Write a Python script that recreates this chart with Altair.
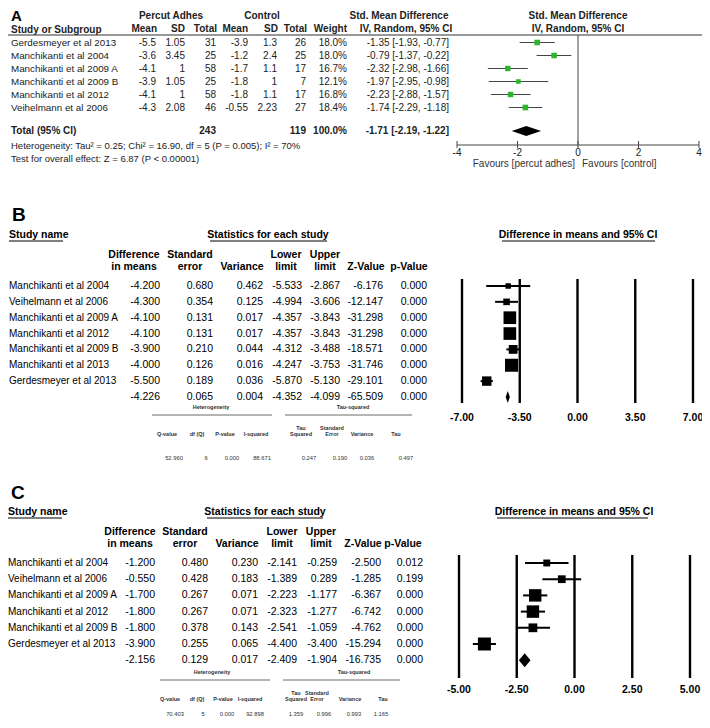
import altair as alt
import pandas as pd

# ---------------- data ----------------
# Panel A (RevMan table)
a_studies = ["Gerdesmeyer et al 2013", "Manchikanti et al 2004", "Manchikanti et al 2009 A",
             "Manchikanti et al 2009 B", "Manchikanti et al 2012", "Veihelmann et al 2006"]
a_pa_mean = ["-5.5", "-3.6", "-4.1", "-3.9", "-4.1", "-4.3"]
a_pa_sd = ["1.05", "3.45", "1", "1.05", "1", "2.08"]
a_pa_total = [31, 25, 58, 25, 58, 46]
a_c_mean = ["-3.9", "-1.2", "-1.7", "-1.8", "-1.8", "-0.55"]
a_c_sd = ["1.3", "2.4", "1.1", "1", "1.1", "2.23"]
a_c_total = [26, 25, 17, 7, 17, 27]
a_weight = [18.0, 18.0, 16.7, 12.1, 16.8, 18.4]
a_smd = [-1.35, -0.79, -2.32, -1.97, -2.23, -1.74]
a_lo = [-1.93, -1.37, -2.98, -2.95, -2.88, -2.29]
a_hi = [-0.77, -0.22, -1.66, -0.98, -1.57, -1.18]
a_total_n = [243, 119]
a_total_est = [-1.71, -2.19, -1.22]
a_ticks = [-4, -2, 0, 2, 4]
a_het = "Heterogeneity: Tau\u00b2 = 0.25; Chi\u00b2 = 16.90, df = 5 (P = 0.005); I\u00b2 = 70%"
a_test = "Test for overall effect: Z = 6.87 (P < 0.00001)"

# Panel B (CMA)
b_studies = ["Manchikanti et al 2004", "Veihelmann et al 2006", "Manchikanti et al 2009 A",
             "Manchikanti et al 2012", "Manchikanti et al 2009 B", "Manchikanti et al 2013",
             "Gerdesmeyer et al 2013"]
b_diff = [-4.200, -4.300, -4.100, -4.100, -3.900, -4.000, -5.500]
b_se = [0.680, 0.354, 0.131, 0.131, 0.210, 0.126, 0.189]
b_var = [0.462, 0.125, 0.017, 0.017, 0.044, 0.016, 0.036]
b_lower = [-5.533, -4.994, -4.357, -4.357, -4.312, -4.247, -5.870]
b_upper = [-2.867, -3.606, -3.843, -3.843, -3.488, -3.753, -5.130]
b_z = [-6.176, -12.147, -31.298, -31.298, -18.571, -31.746, -29.101]
b_p = [0.000, 0.000, 0.000, 0.000, 0.000, 0.000, 0.000]
b_summary = [-4.226, 0.065, 0.004, -4.352, -4.099, -65.509, 0.000]
b_het = ["52.960", "6", "0.000", "88.671"]
b_tau = ["0.247", "0.190", "0.036", "0.497"]
b_ticks = [-7.0, -3.5, 0.0, 3.5, 7.0]

# Panel C (CMA)
c_studies = ["Manchikanti et al 2004", "Veihelmann et al 2006", "Manchikanti et al 2009 A",
             "Manchikanti et al 2012", "Manchikanti et al 2009 B", "Gerdesmeyer et al 2013"]
c_diff = [-1.200, -0.550, -1.700, -1.800, -1.800, -3.900]
c_se = [0.480, 0.428, 0.267, 0.267, 0.378, 0.255]
c_var = [0.230, 0.183, 0.071, 0.071, 0.143, 0.065]
c_lower = [-2.141, -1.389, -2.223, -2.323, -2.541, -4.400]
c_upper = [-0.259, 0.289, -1.177, -1.277, -1.059, -3.400]
c_z = [-2.500, -1.285, -6.367, -6.742, -4.762, -15.294]
c_p = [0.012, 0.199, 0.000, 0.000, 0.000, 0.000]
c_summary = [-2.156, 0.129, 0.017, -2.409, -1.904, -16.735, 0.000]
c_het = ["70.403", "5", "0.000", "92.898"]
c_tau = ["1.359", "0.996", "0.993", "1.165"]
c_ticks = [-5.0, -2.5, 0.0, 2.5, 5.0]

# ---------------- layout helpers ----------------
W, H = 694, 712
OFF = 8
FONT = "Liberation Sans"


def px(v):
    return v - OFF


layers = []


def labels(items, align="left", bold=False, size=10, color="#000", baseline="middle"):
    df = pd.DataFrame({"t": [i[0] for i in items],
                       "x": [px(i[1]) for i in items],
                       "y": [px(i[2]) for i in items]})
    layers.append(
        alt.Chart(df).mark_text(align=align, baseline=baseline, font=FONT, fontSize=size,
                                fontWeight="bold" if bold else "normal", color=color)
        .encode(x=alt.X("x:Q", scale=None), y=alt.Y("y:Q", scale=None), text="t:N"))


def hlines(items, width=1.0, color="#000"):
    df = pd.DataFrame({"x": [px(i[0]) for i in items], "x2": [px(i[1]) for i in items],
                       "y": [px(i[2]) for i in items]})
    layers.append(
        alt.Chart(df).mark_rule(color=color, strokeWidth=width)
        .encode(x=alt.X("x:Q", scale=None), x2="x2:Q", y=alt.Y("y:Q", scale=None)))


def yscale(y0, step):
    return alt.Scale(domain=[0, 1], range=[px(y0), px(y0 + step)], nice=False, zero=False)


def column(values, x, y0, step, align="right", bold=False, size=10, color="#000"):
    df = pd.DataFrame({"row": list(range(len(values))), "t": values})
    layers.append(
        alt.Chart(df).mark_text(align=align, baseline="middle", font=FONT, fontSize=size,
                                fontWeight="bold" if bold else "normal", color=color)
        .encode(x=alt.value(px(x)),
                y=alt.Y("row:Q", scale=yscale(y0, step), axis=None),
                text="t:N"))


def forest(est, lo, hi, wt, y0, step, dom, rng, wdom, wrange, box_color, line_color, lw,
           s_est, s_lo, s_hi, s_row, s_half):
    xs = alt.Scale(domain=dom, range=[px(rng[0]), px(rng[1])], nice=False, zero=False)
    ys = yscale(y0, step)
    df = pd.DataFrame({"row": list(range(len(est))), "est": est, "lo": lo, "hi": hi, "w": wt})
    layers.append(
        alt.Chart(df).mark_rule(color=line_color, strokeWidth=lw)
        .encode(x=alt.X("lo:Q", scale=xs, axis=None), x2="hi:Q",
                y=alt.Y("row:Q", scale=ys, axis=None)))
    layers.append(
        alt.Chart(df).mark_square(filled=True, color=box_color, opacity=1)
        .encode(x=alt.X("est:Q", scale=xs, axis=None),
                y=alt.Y("row:Q", scale=ys, axis=None),
                size=alt.Size("w:Q", scale=alt.Scale(domain=wdom, range=wrange), legend=None)))
    dd = pd.DataFrame({"x": [s_lo, s_est, s_hi],
                       "yt": [s_row, s_row - s_half, s_row],
                       "yb": [s_row, s_row + s_half, s_row]})
    layers.append(
        alt.Chart(dd).mark_area(color="#000", opacity=1)
        .encode(x=alt.X("x:Q", scale=xs, axis=None),
                y=alt.Y("yt:Q", scale=ys, axis=None, stack=None), y2="yb:Q"))
    return xs


def fmt3(v):
    return f"{v:.3f}"


# ---------------- Panel A ----------------
A_Y0, A_STEP = 42.5, 13.0
labels([("A", 11, 21)], bold=True, size=15, baseline="alphabetic")
labels([("Percut Adhes", 171, 16), ("Control", 262, 16), ("Std. Mean Difference", 399, 16),
        ("Std. Mean Difference", 578, 16), ("IV, Random, 95% CI", 578, 29),
        ("IV, Random, 95% CI", 406, 29)], align="center", bold=True, size=10, color="#222")
labels([("Study or Subgroup", 11, 30), ("Total (95% CI)", 11, 131)], bold=True, size=10, color="#222")
labels([("Mean", 157, 29), ("SD", 185, 29), ("Total", 217, 29), ("Mean", 248, 29),
        ("SD", 278, 29), ("Total", 307, 29), ("Weight", 347, 29),
        (str(a_total_n[0]), 216, 131), (str(a_total_n[1]), 306, 131), ("100.0%", 347, 131),
        (f"{a_total_est[0]:.2f} [{a_total_est[1]:.2f}, {a_total_est[2]:.2f}]", 449, 131)],
       align="right", bold=True, size=10, color="#222")
labels([(a_het, 11, 146), (a_test, 11, 159)], size=9.5, color="#222")
hlines([(8, 703, 35)], width=1.2, color="#333")

column(a_studies, 11, A_Y0, A_STEP, align="left", color="#222", size=9.8)
column(a_pa_mean, 156, A_Y0, A_STEP, color="#222")
column(a_pa_sd, 185, A_Y0, A_STEP, color="#222")
column([str(v) for v in a_pa_total], 216, A_Y0, A_STEP, color="#222")
column(a_c_mean, 248, A_Y0, A_STEP, color="#222")
column(a_c_sd, 277, A_Y0, A_STEP, color="#222")
column([str(v) for v in a_c_total], 306, A_Y0, A_STEP, color="#222")
column([f"{v:.1f}%" for v in a_weight], 347, A_Y0, A_STEP, color="#222")
column([f"{e:.2f} [{l:.2f}, {h:.2f}]" for e, l, h in zip(a_smd, a_lo, a_hi)], 449, A_Y0, A_STEP,
       color="#222")

a_total_row = (131 - A_Y0) / A_STEP
xa = forest(a_smd, a_lo, a_hi, a_weight, A_Y0, A_STEP, [-4, 4], [457, 699], [0, 18.4], [0, 32],
            "#2db52d", "#444", 1.2, a_total_est[0], a_total_est[1], a_total_est[2],
            a_total_row, 5.0 / A_STEP)
tk = pd.DataFrame({"v": a_ticks, "t": [str(v) for v in a_ticks]})
layers.append(alt.Chart(pd.DataFrame({"v": [0]})).mark_rule(color="#444", strokeWidth=1)
              .encode(x=alt.X("v:Q", scale=xa, axis=None), y=alt.value(px(35)), y2=alt.value(px(145))))
layers.append(alt.Chart(pd.DataFrame({"a": [a_ticks[0]], "b": [a_ticks[-1]]}))
              .mark_rule(color="#444", strokeWidth=1)
              .encode(x=alt.X("a:Q", scale=xa, axis=None), x2="b:Q", y=alt.value(px(145))))
layers.append(alt.Chart(tk).mark_rule(color="#444", strokeWidth=1)
              .encode(x=alt.X("v:Q", scale=xa, axis=None), y=alt.value(px(141)), y2=alt.value(px(148))))
layers.append(alt.Chart(tk).mark_text(font=FONT, fontSize=10, color="#222", baseline="middle")
              .encode(x=alt.X("v:Q", scale=xa, axis=None), y=alt.value(px(153)), text="t:N"))
labels([("Favours [percut adhes]", 575, 164)], align="right", size=10, color="#333")
labels([("Favours [control]", 582, 164)], align="left", size=10, color="#333")


# ---------------- CMA panels (B and C) ----------------
def cma_panel(letter, letter_x, ly, top, studies, diff, se, var, lower, upper, z, p, summary, het, tau,
              ticks, name_x, col_r, hdr_c, stat_c, stat_rng, y0, step,
              het_y, het_lines, het_hc, het_tc, het_vc, het_hdr_y, het_val_y, het_title_c,
              f_title_c, f_ul, f_dom, f_rng, f_top, f_bot, f_lab_y, wdom, wrange, d_half):
    labels([(letter, letter_x, ly)], bold=True, size=19)
    labels([("Study name", name_x, top)], bold=True, size=10.5)
    labels([("Statistics for each study", stat_c, top), ("Difference in means and 95% CI", f_title_c, top)],
           align="center", bold=True, size=10.5)
    ul = top + 6
    hlines([(name_x, name_x + 54, ul), (stat_rng[0], stat_rng[1], ul), (f_ul[0], f_ul[1], ul)], width=1)
    h1, h2 = top + 20, top + 32
    labels([("Difference", hdr_c[0], h1), ("in means", hdr_c[0], h2),
            ("Standard", hdr_c[1], h1), ("error", hdr_c[1], h2),
            ("Variance", hdr_c[2], h2),
            ("Lower", hdr_c[3], h1), ("limit", hdr_c[3], h2),
            ("Upper", hdr_c[4], h1), ("limit", hdr_c[4], h2),
            ("Z-Value", hdr_c[5], h2), ("p-Value", hdr_c[6], h2)],
           align="center", bold=True, size=10.5)
    column(studies, name_x, y0, step, align="left", size=10)
    cols = [diff, se, var, lower, upper, z, p]
    for i, vals in enumerate(cols):
        column([fmt3(v) for v in vals] + [fmt3(summary[i])], col_r[i], y0, step, size=10.5)
    # heterogeneity block
    labels([("Heterogeneity", het_title_c[0], het_y), ("Tau-squared", het_title_c[1], het_y)],
           align="center", bold=True, size=5.5, color="#333")
    hlines([(het_lines[0], het_lines[1], het_y + 8), (het_lines[2], het_lines[3], het_y + 8)],
           width=0.8, color="#444")
    labels([("Q-value", het_hc[0], het_hdr_y), ("df (Q)", het_hc[1], het_hdr_y),
            ("P-value", het_hc[2], het_hdr_y), ("I-squared", het_hc[3], het_hdr_y),
            ("Tau", het_tc[0], het_hdr_y - 6), ("Squared", het_tc[0], het_hdr_y),
            ("Standard", het_tc[1], het_hdr_y - 6), ("Error", het_tc[1], het_hdr_y),
            ("Variance", het_tc[2], het_hdr_y), ("Tau", het_tc[3], het_hdr_y)],
           align="center", bold=True, size=5.5, color="#333")
    labels([(het[i], het_vc[i], het_val_y) for i in range(4)] +
           [(tau[i], het_vc[4 + i], het_val_y) for i in range(4)],
           align="center", size=5.8, color="#333")
    # forest
    n = len(studies)
    xs = forest(diff, lower, upper, [1.0 / v for v in var], y0, step, f_dom, f_rng, wdom, wrange,
                "#000", "#000", 2.0, summary[0], summary[3], summary[4], n, d_half / step)
    tdf = pd.DataFrame({"v": ticks, "t": [f"{v:.2f}" for v in ticks]})
    layers.append(alt.Chart(tdf).mark_rule(color="#000", strokeWidth=2.4)
                  .encode(x=alt.X("v:Q", scale=xs, axis=None), y=alt.value(px(f_top)),
                          y2=alt.value(px(f_bot))))
    layers.append(alt.Chart(tdf).mark_text(font=FONT, fontSize=10.5, fontWeight="bold",
                                           color="#000", baseline="middle")
                  .encode(x=alt.X("v:Q", scale=xs, axis=None), y=alt.value(px(f_lab_y)), text="t:N"))


cma_panel("B", 12, 215, 235, b_studies, b_diff, b_se, b_var, b_lower, b_upper, b_z, b_p, b_summary,
          b_het, b_tau, b_ticks, 9,
          [160, 213, 263, 302, 340, 383, 427], [134, 190, 242, 286, 325, 366, 409],
          268, (210, 327), 286, 15.85,
          407, (152, 272, 285, 412), [167, 197, 225, 256], [301, 332, 362, 396],
          [174, 206, 232, 262, 309, 340, 367, 406], 434, 458, (211, 353),
          578, (502, 655), [-7, 7], [462, 693], 279, 403, 418,
          [0, 62.5], [25, 169], 6.0)

cma_panel("C", 11, 493, 512, c_studies, c_diff, c_se, c_var, c_lower, c_upper, c_z, c_p, c_summary,
          c_het, c_tau, c_ticks, 8,
          [155, 208, 258, 297, 337, 381, 423], [130, 185, 237, 282, 321, 363, 403],
          265, (207, 323), 563, 16.2,
          672, (160, 270, 283, 400), [170, 197, 223, 250], [296, 317, 350, 383],
          [175, 203, 227, 255, 296, 324, 354, 381], 699, 714, (212, 354),
          574, (497, 648), [-5, 5], [459, 690], 555, 678, 690,
          [0, 15.38], [0, 169], 7.0)

chart = (alt.layer(*layers)
         .resolve_scale(x="independent", y="independent", size="independent")
         .properties(width=W, height=H, padding=0, autosize=alt.AutoSizeParams(type="none"))
         .configure_view(stroke=None))

chart.save("out.html", embed_options={"renderer": "svg", "actions": False})
